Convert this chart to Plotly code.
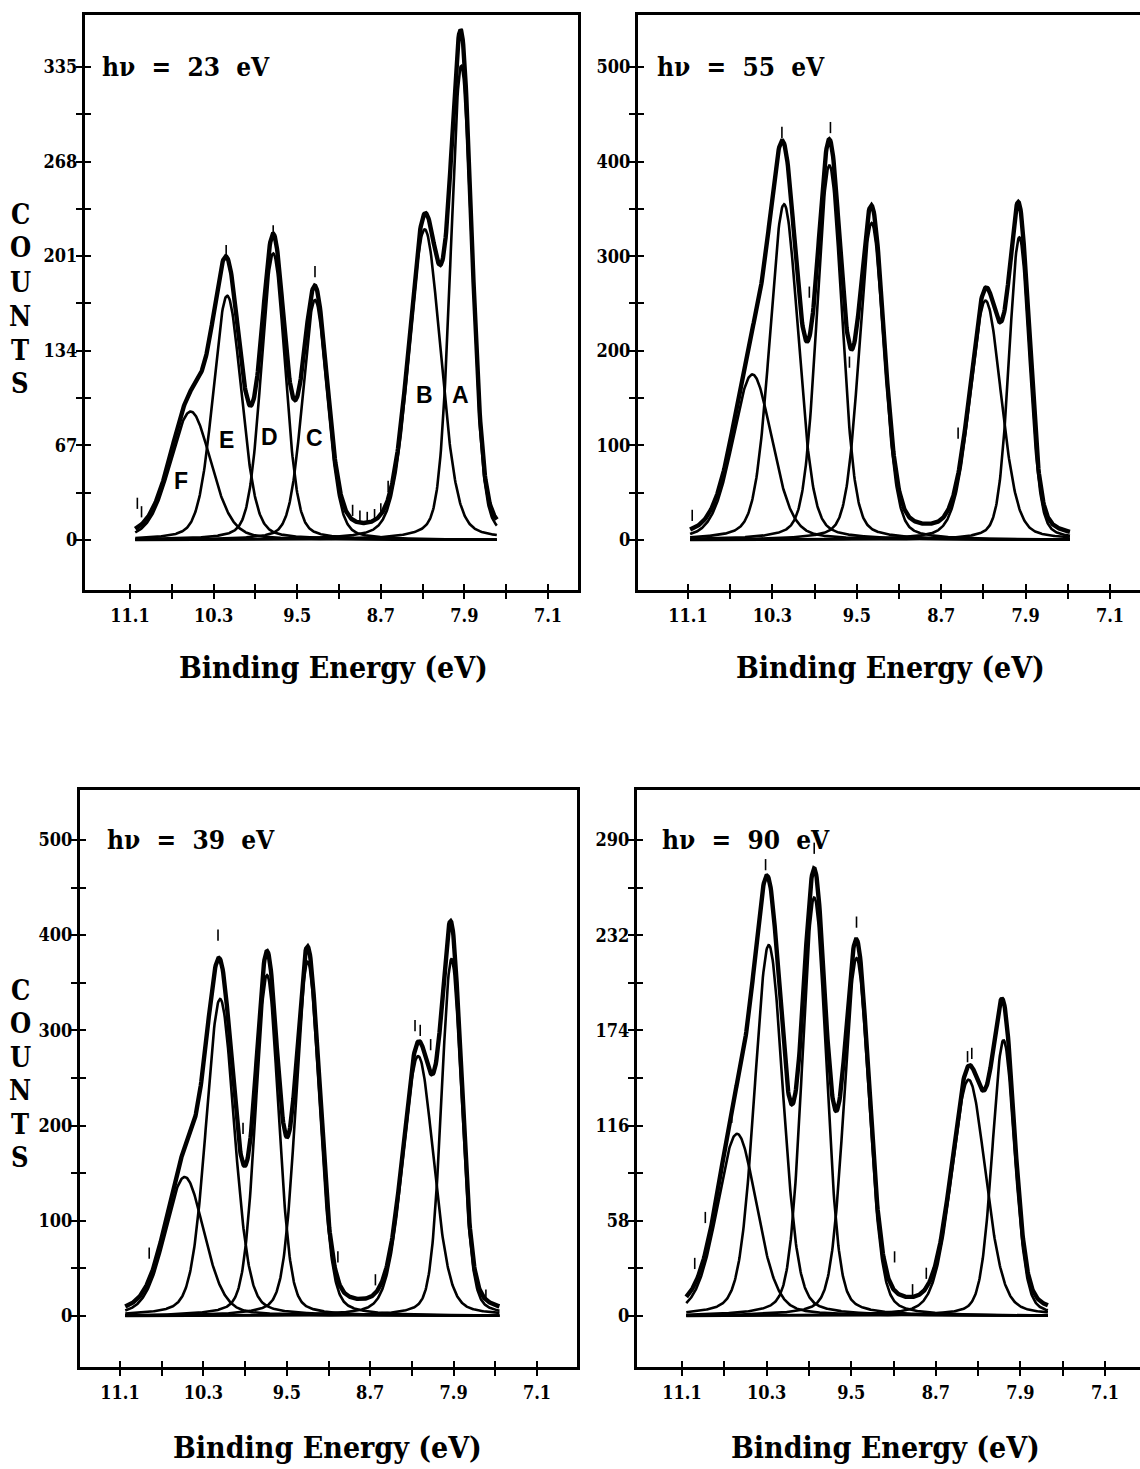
import numpy as np
import plotly.graph_objects as go

W, H = 1140, 1469

# ---------------------------------------------------------------- data
# Bands A..F fitted in each photoelectron spectrum:
# centre (binding energy, eV), peak height (counts), FWHM (eV)
band_names = ["A", "B", "C", "D", "E", "F"]
photon_energy = [23, 55, 39, 90]

centre_23 = [7.93, 8.28, 9.33, 9.73, 10.17, 10.52]
height_23 = [336, 220, 170, 203, 173, 91]
fwhm_23 = [0.24, 0.36, 0.28, 0.27, 0.32, 0.46]

centre_55 = [7.96, 8.28, 9.36, 9.76, 10.19, 10.49]
height_55 = [320, 253, 335, 396, 355, 175]
fwhm_55 = [0.23, 0.35, 0.28, 0.28, 0.32, 0.44]

centre_39 = [7.92, 8.24, 9.30, 9.69, 10.14, 10.48]
height_39 = [375, 273, 372, 358, 333, 146]
fwhm_39 = [0.23, 0.35, 0.27, 0.26, 0.32, 0.44]

centre_90 = [8.06, 8.39, 9.45, 9.85, 10.28, 10.58]
height_90 = [168, 144, 218, 255, 226, 111]
fwhm_90 = [0.25, 0.38, 0.28, 0.27, 0.32, 0.44]

# energy span covered by each measured spectrum (eV)
span_23 = [11.05, 7.59]
span_55 = [11.08, 7.48]
span_39 = [11.05, 7.46]
span_90 = [11.06, 7.64]

# individual measured points that stand off the fitted envelope
obs_e_23 = [11.03, 10.99, 8.97, 8.90, 8.83, 8.76, 8.70, 8.63, 7.93, 9.33, 9.73, 10.18]
obs_c_23 = [26, 20, 21, 17, 16, 18, 22, 38, 358, 190, 219, 205]
obs_e_55 = [10.21, 9.75, 9.95, 9.57, 8.54, 11.06]
obs_c_55 = [431, 436, 262, 188, 113, 26]
obs_e_39 = [10.16, 9.92, 8.27, 8.22, 8.12, 10.82, 9.01, 8.65, 7.59]
obs_c_39 = [400, 197, 305, 300, 285, 66, 62, 38, 22]
obs_e_90 = [10.31, 9.85, 9.45, 8.40, 8.36, 10.88, 10.98, 9.09, 8.79, 8.92, 10.63]
obs_c_90 = [275, 285, 240, 158, 160, 60, 32, 36, 26, 16, 121]

# axis tick labels
energy_ticks = [11.1, 10.3, 9.5, 8.7, 7.9, 7.1]
count_ticks_23 = [0, 67, 134, 201, 268, 335]
count_ticks_55 = [0, 100, 200, 300, 400, 500]
count_ticks_39 = [0, 100, 200, 300, 400, 500]
count_ticks_90 = [0, 58, 116, 174, 232, 290]

# band letters drawn in the 23 eV spectrum (energy, counts)
letter_e_23 = [7.94, 8.28, 9.33, 9.77, 10.18, 10.61]
letter_c_23 = [103, 103, 72, 73, 71, 42]

# ---------------------------------------------------------------- layout
# panel frames in pixels: left, right, top, bottom
panels = [
    dict(px=(85, 578), py=(15, 590), xr=(11.531, 6.813), yr=(-35.4, 371.8),
         mirror_y=True, centre=centre_23, height=height_23, fwhm=fwhm_23,
         span=span_23, obs=(obs_e_23, obs_c_23), yt=count_ticks_23,
         label_xy=(100, 67), title_xy=(333, 668), counts=True),
    dict(px=(638, 1140), py=(15, 590), xr=(11.574, 6.816), yr=(-52.9, 555.0),
         mirror_y=False, centre=centre_55, height=height_55, fwhm=fwhm_55,
         span=span_55, obs=(obs_e_55, obs_c_55), yt=count_ticks_55,
         label_xy=(655, 67), title_xy=(890, 668), counts=False),
    dict(px=(80, 577), py=(790, 1367), xr=(11.484, 6.716), yr=(-53.6, 552.5),
         mirror_y=True, centre=centre_39, height=height_39, fwhm=fwhm_39,
         span=span_39, obs=(obs_e_39, obs_c_39), yt=count_ticks_39,
         label_xy=(105, 840), title_xy=(327, 1447), counts=True),
    dict(px=(637, 1140), py=(790, 1367), xr=(11.526, 6.769), yr=(-31.1, 320.5),
         mirror_y=False, centre=centre_90, height=height_90, fwhm=fwhm_90,
         span=span_90, obs=(obs_e_90, obs_c_90), yt=count_ticks_90,
         label_xy=(660, 840), title_xy=(885, 1447), counts=False),
]

SERIF = "DejaVu Serif Condensed, DejaVu Serif, Liberation Serif, serif"
SANS = "Liberation Sans, Arial, sans-serif"
INK = "black"


def band_shape(e, c, h, w, eta=0.25):
    """Pseudo-Voigt band profile."""
    x = (e - c) / w
    g = np.exp(-4.0 * np.log(2.0) * x ** 2)
    lor = 1.0 / (1.0 + 4.0 * x ** 2)
    return h * ((1.0 - eta) * g + eta * lor)


def mids(vals):
    return [(a + b) / 2.0 for a, b in zip(vals[:-1], vals[1:])]


fig = go.Figure()
layout = dict(width=W, height=H, margin=dict(l=0, r=0, t=0, b=0),
              paper_bgcolor="white", plot_bgcolor="white", showlegend=False)
annotations = []

for i, p in enumerate(panels):
    n = i + 1
    xa, ya = ("x", "y") if n == 1 else (f"x{n}", f"y{n}")
    xo, yo = f"x{n + 4}", f"y{n + 4}"
    xdom = [p["px"][0] / W, p["px"][1] / W]
    ydom = [1 - p["py"][1] / H, 1 - p["py"][0] / H]

    e = np.linspace(p["span"][0], p["span"][1], 700)
    total = np.zeros_like(e)
    for c, h, w in zip(p["centre"], p["height"], p["fwhm"]):
        comp = band_shape(e, c, h, w)
        total += comp
        fig.add_trace(go.Scatter(x=e, y=comp, mode="lines", xaxis=xa, yaxis=ya,
                                 line=dict(color=INK, width=2.6),
                                 hoverinfo="skip"))
    fig.add_trace(go.Scatter(x=e, y=total, mode="lines", xaxis=xa, yaxis=ya,
                             line=dict(color=INK, width=4.4), hoverinfo="skip"))
    fig.add_trace(go.Scatter(x=p["obs"][0], y=p["obs"][1], mode="markers",
                             xaxis=xa, yaxis=ya, hoverinfo="skip",
                             marker=dict(symbol="line-ns", size=8, color=INK,
                                         line=dict(color=INK, width=1.6))))
    # placeholder trace so the inside-tick axes get drawn
    fig.add_trace(go.Scatter(x=[None], y=[None], xaxis=xo, yaxis=yo,
                             hoverinfo="skip"))

    common = dict(showgrid=False, zeroline=False, showline=True, linecolor=INK,
                  linewidth=3, tickcolor=INK, tickwidth=2, ticklen=6)
    tickfont = dict(family=SERIF, size=18, color=INK, weight="bold")

    layout["xaxis" if n == 1 else f"xaxis{n}"] = dict(
        common, domain=xdom, anchor=ya, range=list(p["xr"]), mirror=True,
        ticks="outside", tickmode="array", tickvals=energy_ticks,
        ticktext=[f"{v:.1f}" for v in energy_ticks], tickfont=tickfont,
        ticklabelstandoff=1,
        minor=dict(ticks="outside", ticklen=6, tickwidth=2, tickcolor=INK,
                   tickmode="array", tickvals=mids(energy_ticks)))
    layout["yaxis" if n == 1 else f"yaxis{n}"] = dict(
        common, domain=ydom, anchor=xa, range=list(p["yr"]),
        mirror=p["mirror_y"], ticks="outside", tickmode="array",
        tickvals=p["yt"], ticktext=[str(v) for v in p["yt"]], tickfont=tickfont,
        ticklabelstandoff=-5,
        minor=dict(ticks="outside", ticklen=6, tickwidth=2, tickcolor=INK,
                   tickmode="array", tickvals=mids(p["yt"])))
    # inner halves of the crossing tick marks
    layout[f"xaxis{n + 4}"] = dict(
        showgrid=False, zeroline=False, showline=False, overlaying=xa,
        anchor=yo, range=list(p["xr"]), ticks="inside", ticklen=6, tickwidth=2,
        tickcolor=INK, showticklabels=False, tickmode="array",
        tickvals=energy_ticks,
        minor=dict(ticks="inside", ticklen=6, tickwidth=2, tickcolor=INK,
                   tickmode="array", tickvals=mids(energy_ticks)))
    layout[f"yaxis{n + 4}"] = dict(
        showgrid=False, zeroline=False, showline=False, overlaying=ya,
        domain=ydom, anchor=xo, range=list(p["yr"]), ticks="inside", ticklen=6,
        tickwidth=2, tickcolor=INK, showticklabels=False, tickmode="array",
        tickvals=p["yt"],
        minor=dict(ticks="inside", ticklen=6, tickwidth=2, tickcolor=INK,
                   tickmode="array", tickvals=mids(p["yt"])))

    # photon energy label
    gap = "\u00a0\u00a0"
    annotations.append(dict(
        text=f"h\u03bd{gap}={gap}{photon_energy[i]}{gap}eV",
        xref="paper", yref="paper",
        x=p["label_xy"][0] / W, y=1 - p["label_xy"][1] / H, xanchor="left",
        yanchor="middle", showarrow=False,
        font=dict(family=SERIF, size=26, color=INK, weight="bold")))
    # energy axis title
    annotations.append(dict(
        text="Binding Energy (eV)", xref="paper", yref="paper",
        x=p["title_xy"][0] / W, y=1 - p["title_xy"][1] / H, xanchor="center",
        yanchor="middle", showarrow=False,
        font=dict(family=SERIF, size=30, color=INK, weight="bold")))
    # stacked COUNTS label on the left-hand panels
    if p["counts"]:
        y0 = 214 if n == 1 else 990
        step = 34 if n == 1 else 33.5
        for k, ch in enumerate("COUNTS"):
            annotations.append(dict(
                text=ch, xref="paper", yref="paper", x=20 / W,
                y=1 - (y0 + step * k) / H, xanchor="center", yanchor="middle",
                showarrow=False,
                font=dict(family=SERIF, size=27, color=INK, weight="bold")))

# band letters in the first spectrum
for name, le, lc in zip(band_names, letter_e_23, letter_c_23):
    annotations.append(dict(text=name, x=le, y=lc, xref="x", yref="y",
                            showarrow=False, xanchor="center", yanchor="middle",
                            font=dict(family=SANS, size=23, color=INK,
                                      weight="bold")))

layout["annotations"] = annotations
fig.update_layout(**layout)
fig.write_html("out.html")
